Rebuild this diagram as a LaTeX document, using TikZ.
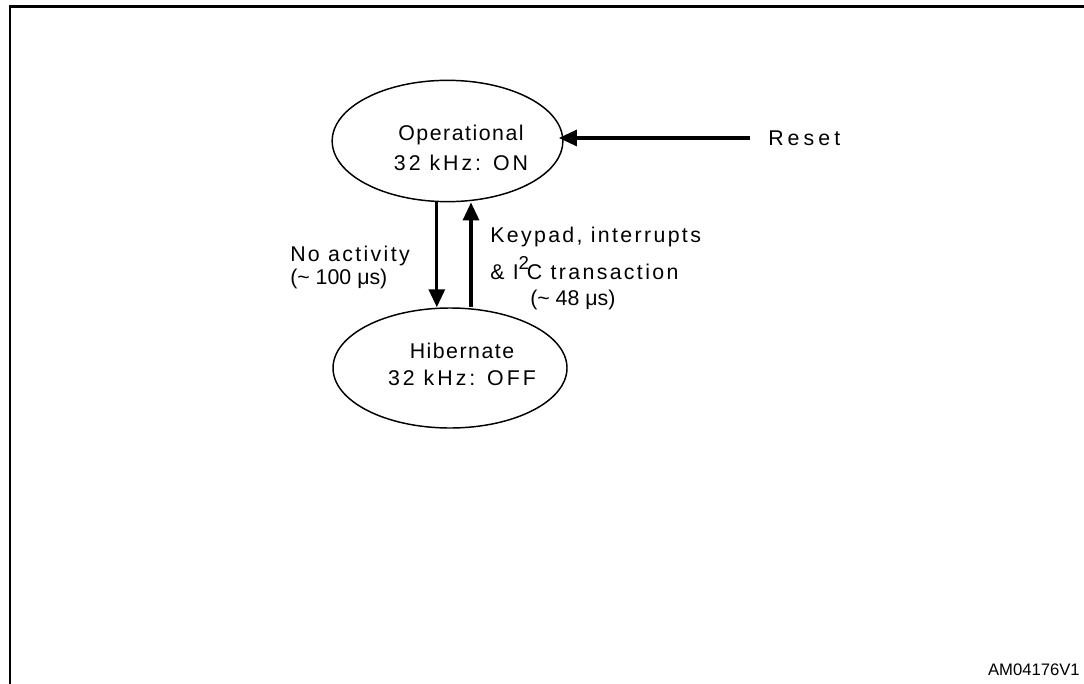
\documentclass[tikz,border=0pt]{standalone}
\usepackage{fontspec}
\setmainfont{Liberation Sans}[LetterSpace=7]
\newfontfamily\plainfont{Liberation Sans}
\newfontfamily\widefont{Liberation Sans}[LetterSpace=14]
\newfontfamily\notefont{Liberation Sans}[LetterSpace=11]
\newfontfamily\resetfont{Liberation Sans}[LetterSpace=19]
\newcommand\bodysize{\fontsize{16}{20}\selectfont}
\usetikzlibrary{shapes.geometric,arrows.meta}
\tikzset{
	state/.style={draw, ellipse, line width=1.1pt, inner sep=0pt},
	statetext/.style={anchor=north, align=center, inner sep=0pt},
	flow/.style={line width=2.4pt, -{Triangle[length=13.5pt,width=12pt]}},
	note/.style={anchor=north west, align=left, inner sep=0pt, font=\notefont\bodysize}
}
\begin{document}
\begin{tikzpicture}[x=0.75pt,y=-0.75pt,font=\bodysize]
		\useasboundingbox (0,0) rectangle (1084,684);
		\draw[line width=2pt] (10,700)--(10,6.5)--(1100,6.5);
		\node[state, minimum width=173pt, minimum height=91pt] (op) at (447.5,141) {};
		\node[statetext] (optext) at (461,125) {Operational\\[2.5pt]{\widefont 32 kHz: ON}};
		\node[state, minimum width=175.5pt, minimum height=90pt] (hib) at (450,368) {};
		\node[statetext] (hibtext) at (462,343) {Hibernate\\{\widefont 32 kHz: OFF}};
		\node[anchor=west, inner sep=0pt, font=\resetfont\bodysize] (reset) at (768,138) {Reset};
		\coordinate (rst) at (750,138);
		\draw[flow, shorten >=-3.5pt] (rst) -- (rst -| op.east);
		\coordinate (dn) at ([xshift=-8pt]op.south);
		\coordinate (up) at ([xshift=15.75pt]hib.north);
		\draw[flow] (dn) -- (dn |- hib.north);
		\draw[flow] (up) -- (up |- op.south);
		\node[note] (idle) at (290,246) {No activity\\[-3pt]{\plainfont(\textasciitilde\ 100 μs)}};
		\node[note] (wake) at (490,227) {Keypad, interrupts\\[6pt]\& I\raisebox{0.45em}{\plainfont\fontsize{14}{14}\selectfont 2}\hspace{-0.1em}C transaction\\\hspace*{30pt}{\plainfont(\textasciitilde\ 48 μs)}};
		\node[anchor=east, inner sep=0pt, font=\plainfont\fontsize{12.5}{14}\selectfont] (tag) at (1080,670) {AM04176V1};
	\end{tikzpicture}
\end{document}
